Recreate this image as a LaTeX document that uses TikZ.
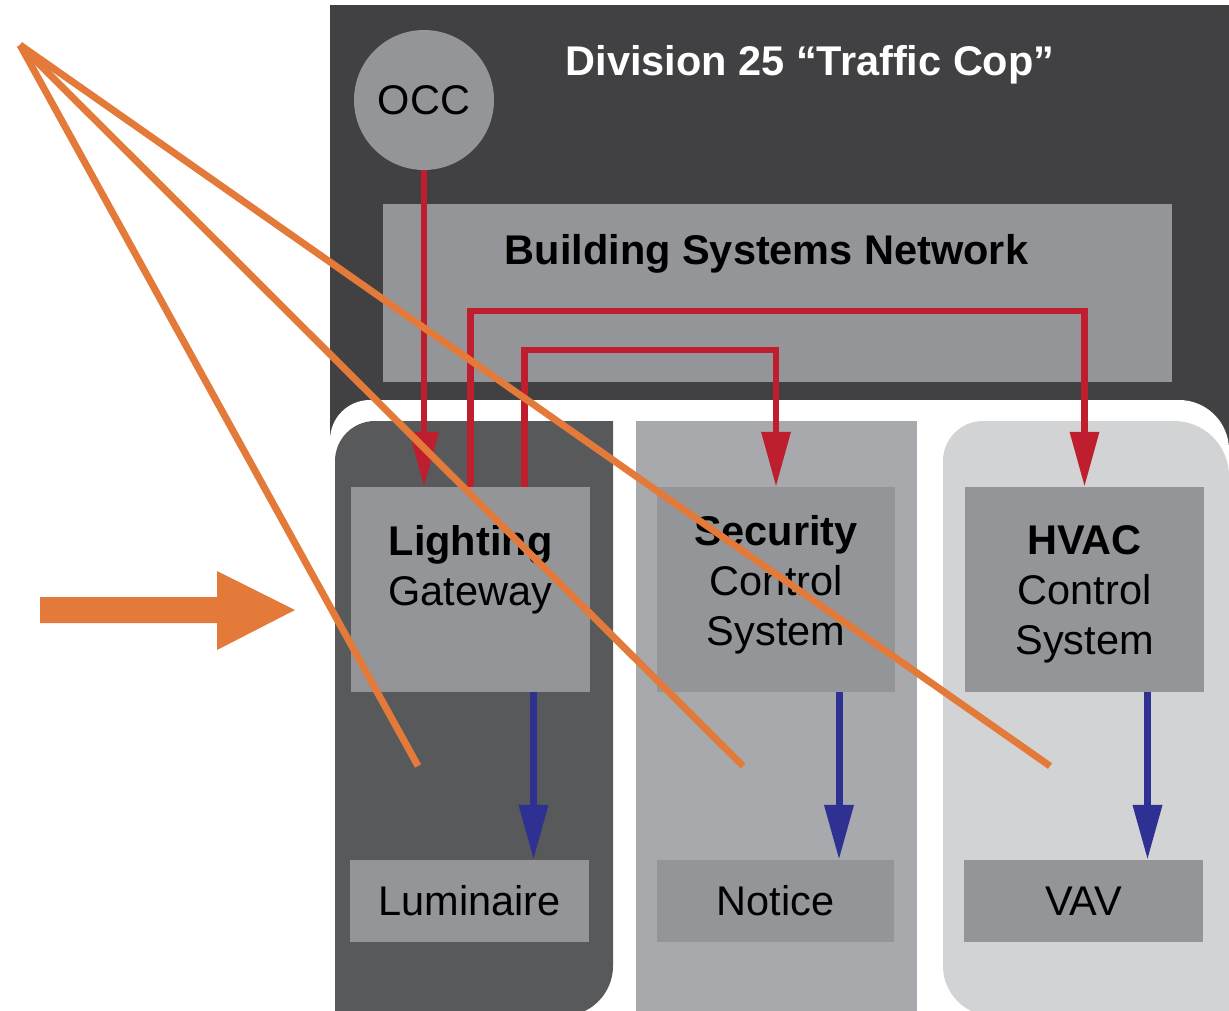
\documentclass[tikz,border=0pt]{standalone}
\usepackage{fontspec}
\setmainfont{Liberation Sans}
\usetikzlibrary{arrows.meta}
\definecolor{bgdark}{HTML}{414042}
\definecolor{coldark}{HTML}{58595B}
\definecolor{colmid}{HTML}{A7A9AC}
\definecolor{collight}{HTML}{D1D3D4}
\definecolor{boxgray}{HTML}{939598}
\definecolor{netred}{HTML}{BE1E2D}
\definecolor{ctlblue}{HTML}{2E3192}
\definecolor{markorange}{HTML}{E47A3A}

\begin{document}
\begin{tikzpicture}[x=1pt, y=-1pt, font=\fontsize{41.5}{50}\selectfont,
  box/.style={fill=boxgray, inner sep=0pt, align=center},
  net/.style={draw=netred, line width=6.5pt, -{Triangle[length=55pt,width=28pt]}},
  ctl/.style={draw=ctlblue, line width=7pt, -{Triangle[length=55pt,width=28pt]}},
  pointer/.style={draw=markorange, line width=7pt}]
  \useasboundingbox (0,0) rectangle (1229,1011);
  \fill[white] (0,0) rectangle (1229,1011);
  \fill[bgdark] (330,5) rectangle (1229,1011);
  \fill[white] (330,1016) -- (330,440) arc[start angle=180,end angle=270,radius=40]
    -- (1179,400) arc[start angle=270,end angle=360,radius=50] -- (1229,1016) -- cycle;
  \fill[coldark] (335,1016) -- (335,461) arc[start angle=180,end angle=270,radius=40]
    -- (613,421) -- (613,966) arc[start angle=0,end angle=90,radius=50] -- cycle;
  \fill[colmid] (636,421) rectangle (917,1016);
  \fill[collight] (1229,1016) -- (993,1016) arc[start angle=90,end angle=180,radius=50]
    -- (943,461) arc[start angle=180,end angle=270,radius=40]
    -- (1174,421) arc[start angle=270,end angle=360,radius=55] -- cycle;

  \node[box, circle, minimum size=140pt] (occ) at (424,100) {OCC};
  \node[text=white] (title) at (810,65) {\textbf{Division 25 “Traffic Cop”}};
  \node[box, minimum width=789pt, minimum height=178pt, text height=61pt, text depth=117pt]
    (bsn) at (777.5,293) {\textbf{Building Systems Network}\hspace*{22pt}};

  \node[box, minimum width=239pt, minimum height=205pt, text height=118pt, text depth=87pt]
    (gw) at (470.5,589.5) {\textbf{Lighting}\\Gateway};
  \node[box, minimum width=238pt, minimum height=205pt, text height=158pt, text depth=47pt]
    (sec) at (776,589.5) {\textbf{Security}\\Control\\System};
  \node[box, minimum width=239pt, minimum height=205pt, text height=167pt, text depth=38pt]
    (hvac) at (1084.5,589.5) {\textbf{HVAC}\\Control\\System};
  \node[box, minimum width=239pt, minimum height=82pt] (lum) at (469.5,901) {Luminaire};
  \node[box, minimum width=237pt, minimum height=82pt] (notice) at (775.5,901) {Notice};
  \node[box, minimum width=239pt, minimum height=82pt] (vav) at (1083.5,901) {VAV};

  \draw[net] (occ) -- (occ |- gw.north);
  \draw[net] (gw.north) -- ++(0,-176) -| (hvac.north);
  \draw[net] ([xshift=54pt]gw.north) -- ++(0,-137) -| (sec.north);
  \foreach \a/\b in {gw/lum, sec/notice, hvac/vav}
    \draw[ctl] ([xshift=63pt]\a.south) -- ([xshift=63pt]\a.south |- \b.north);

  \coordinate (apex) at (20,45);
  \coordinate (endA) at (418,766);
  \coordinate (endB) at (743,766);
  \coordinate (endC) at (1050,766);
  \foreach \e in {endA, endB, endC}
    \draw[pointer] (apex) -- (\e);
  \fill[markorange] (40,597) -- (217,597) -- (217,571) -- (295,610) -- (217,650)
    -- (217,623) -- (40,623) -- cycle;
\end{tikzpicture}
\end{document}
